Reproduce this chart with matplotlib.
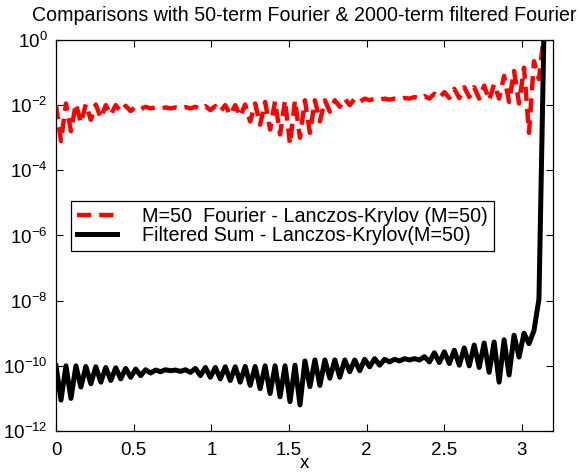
import numpy as np
import matplotlib
matplotlib.use("Agg")
import matplotlib.pyplot as plt

plt.rcParams['font.family'] = ['Liberation Sans', 'DejaVu Sans']
plt.rcParams['mathtext.default'] = 'regular'

# grid on [0, pi] (log10 of the errors)
x = np.linspace(0, np.pi, 99)

red_log = [
    -2.0, -3.1, -1.95, -2.8, -1.95, -2.55, -1.97, -2.45, -1.98, -2.4,
    -2.0, -2.3, -2.0, -2.2, -2.02, -2.18, -2.05, -2.12, -2.05, -2.1,
    -2.07, -2.1, -2.07, -2.1, -2.07, -2.1, -2.06, -2.1, -2.05, -2.12,
    -2.03, -2.15, -2.03, -2.2, -2.0, -2.3, -2.0, -2.35, -1.98, -2.5,
    -1.95, -2.6, -1.9, -2.75, -1.88, -2.9, -1.85, -3.2, -1.85, -3.0,
    -1.85, -2.85, -1.85, -2.5, -1.85, -2.2, -1.85, -2.05, -1.8, -2.0,
    -1.8, -1.9, -1.8, -1.85, -1.8, -1.83, -1.8, -1.83, -1.8, -1.82,
    -1.78, -1.8, -1.75, -1.8, -1.72, -1.8, -1.65, -1.78, -1.6, -1.78,
    -1.5, -1.78, -1.45, -1.75, -1.45, -1.8, -1.4, -1.85, -1.35, -1.8,
    -1.1, -1.9, -0.95, -1.95, -0.85, -2.85, -0.65, -1.2, 0.2,
]

black_log = [
    -10.0, -11.05, -10.0, -11.0, -10.0, -10.65, -10.02, -10.55, -10.03, -10.5,
    -10.05, -10.45, -10.06, -10.4, -10.08, -10.35, -10.1, -10.3, -10.12, -10.22,
    -10.13, -10.18, -10.12, -10.15, -10.13, -10.17, -10.12, -10.2, -10.08, -10.3,
    -10.05, -10.35, -10.05, -10.4, -10.03, -10.45, -10.03, -10.5, -10.02, -10.6,
    -10.02, -10.7, -10.0, -10.85, -10.0, -10.95, -10.0, -11.1, -9.98, -11.2,
    -9.85, -10.64, -9.82, -10.6, -9.82, -10.38, -9.82, -10.35, -9.82, -10.18,
    -9.82, -10.15, -9.8, -10.03, -9.78, -9.98, -9.8, -9.88, -9.8, -9.85,
    -9.78, -9.82, -9.78, -9.82, -9.72, -9.88, -9.6, -9.9, -9.57, -9.93,
    -9.52, -9.98, -9.45, -10.0, -9.36, -10.05, -9.3, -10.2, -9.27, -10.5,
    -9.2, -10.28, -9.06, -9.73, -9.0, -9.32, -8.92, -7.95, 0.2,
]

red_err = 10.0 ** np.array(red_log)
black_err = 10.0 ** np.array(black_log)

fig = plt.figure(figsize=(5.79, 4.76), dpi=100)
ax = fig.add_axes([56 / 579, 1 - 431 / 476, 497 / 579, 391 / 476])

ax.semilogy(x, red_err, color='red', lw=3.2, dashes=(3.2, 1.8),
            label='M=50  Fourier - Lanczos-Krylov (M=50)')
ax.semilogy(x, black_err, color='black', lw=3.6, solid_joinstyle='round',
            label='Filtered Sum - Lanczos-Krylov(M=50)')

ax.set_xlim(0, 3.2)
ax.set_ylim(1e-12, 1e0)
ax.set_xticks([0, 0.5, 1, 1.5, 2, 2.5, 3])
ax.set_xticklabels(['0', '0.5', '1', '1.5', '2', '2.5', '3'])
yt = [1e-12, 1e-10, 1e-8, 1e-6, 1e-4, 1e-2, 1e0]
ax.set_yticks(yt)
ax.set_yticklabels(['$10^{-12}$', '$10^{-10}$', '$10^{-8}$', '$10^{-6}$',
                    '$10^{-4}$', '$10^{-2}$', '$10^{0}$'])
ax.minorticks_off()
ax.tick_params(direction='in', length=5, width=0.8, top=True, right=True,
               labelsize=13.5)
ax.tick_params(axis='x', pad=8)
ax.tick_params(axis='y', pad=6)
for s in ax.spines.values():
    s.set_linewidth(0.9)

ax.set_title('Comparisons with 50-term Fourier & 2000-term filtered Fourier',
             fontsize=14.1, pad=14)
ax.set_xlabel('x', fontsize=13.5, labelpad=-3)

leg = ax.legend(loc='upper left', bbox_to_anchor=(0.030, 0.588),
                borderaxespad=0, fontsize=14.2, fancybox=False,
                edgecolor='black', framealpha=1, handlelength=2.03,
                handletextpad=1.27, labelspacing=0.0, borderpad=0.3)
leg.get_frame().set_linewidth(0.9)

fig.savefig('out.png', dpi=100)
